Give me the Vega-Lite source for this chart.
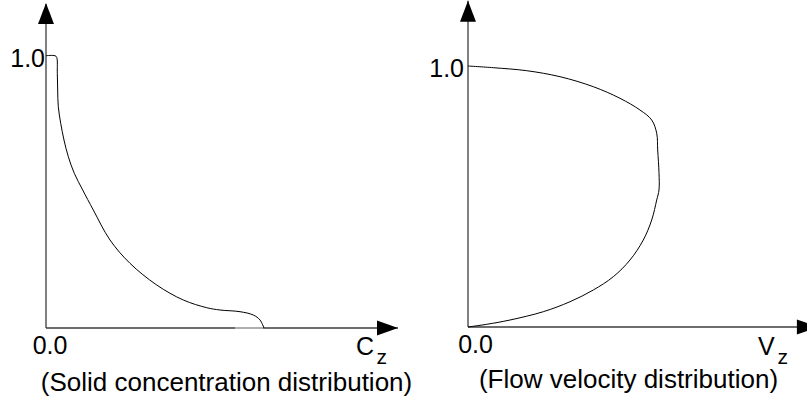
{
  "$schema": "https://vega.github.io/schema/vega-lite/v6.json",
  "background": "white",
  "padding": {"left": 10, "top": 0, "right": 0, "bottom": 0},
  "spacing": 70,
  "bounds": "flush",
  "config": {"view": {"stroke": null}, "font": "Liberation Sans"},
  "hconcat": [
    {
      "width": 352,
      "height": 328,
      "encoding": {
        "x": {"field": "x", "type": "quantitative", "scale": {"domain": [0, 1], "nice": false, "zero": false}, "axis": null},
        "y": {"field": "y", "type": "quantitative", "scale": {"domain": [0, 1.2046], "nice": false, "zero": false}, "axis": null}
      },
      "layer": [
        {
          "data": {"values": [{"x": 0, "y": 0, "x2": 1, "y2": 0}, {"x": 0, "y": 0, "x2": 0, "y2": 1.19}]},
          "mark": {"type": "rule", "color": "#3c3c3c", "strokeWidth": 1.3},
          "encoding": {"x2": {"field": "x2"}, "y2": {"field": "y2"}}
        },
        {
          "data": {"values": [{"x": 0.537, "y": 0, "x2": 0.617, "y2": 0}]},
          "mark": {"type": "rule", "color": "#c4c4c4", "strokeWidth": 1.5},
          "encoding": {"x2": {"field": "x2"}, "y2": {"field": "y2"}}
        },
        {
          "data": {"values": [{"x": 0, "y": 1.1935, "dir": "up"}, {"x": 1.0, "y": 0, "dir": "right"}]},
          "mark": {"type": "point", "filled": true, "color": "black", "opacity": 1, "size": 1764, "strokeWidth": 0},
          "encoding": {
            "shape": {"field": "dir", "type": "nominal", "scale": {"domain": ["up", "right"], "range": ["M0,0L0.38,1L-0.38,1Z", "M0,0L-1,-0.36L-1,0.36Z"]}, "legend": null}
          }
        },
        {
          "data": {"values": [
            {"i": 0, "x": 0, "y": 1.0},
            {"i": 1, "x": 0.0256, "y": 1.0},
            {"i": 2, "x": 0.0304, "y": 0.9942},
            {"i": 3, "x": 0.0321, "y": 0.9354},
            {"i": 4, "x": 0.0332, "y": 0.8741},
            {"i": 5, "x": 0.0349, "y": 0.8127},
            {"i": 6, "x": 0.0418, "y": 0.7518},
            {"i": 7, "x": 0.0511, "y": 0.6904},
            {"i": 8, "x": 0.0634, "y": 0.6291},
            {"i": 9, "x": 0.0804, "y": 0.5681},
            {"i": 10, "x": 0.1043, "y": 0.5068},
            {"i": 11, "x": 0.1344, "y": 0.4334},
            {"i": 12, "x": 0.1818, "y": 0.3232},
            {"i": 13, "x": 0.2386, "y": 0.2376},
            {"i": 14, "x": 0.3145, "y": 0.1579},
            {"i": 15, "x": 0.3901, "y": 0.1028},
            {"i": 16, "x": 0.4565, "y": 0.0746},
            {"i": 17, "x": 0.4943, "y": 0.0661},
            {"i": 18, "x": 0.5511, "y": 0.0599},
            {"i": 19, "x": 0.5889, "y": 0.0477},
            {"i": 20, "x": 0.608, "y": 0.0294},
            {"i": 21, "x": 0.6193, "y": 0.0}
          ]},
          "mark": {"type": "line", "color": "black", "strokeWidth": 1, "interpolate": "catmull-rom"},
          "encoding": {"order": {"field": "i", "type": "quantitative"}}
        },
        {
          "data": {"values": [{"x": 0, "y": 1.0, "t": "1.0"}]},
          "mark": {"type": "text", "align": "right", "baseline": "alphabetic", "dx": -1, "dy": 11, "fontSize": 25, "color": "black"},
          "encoding": {"text": {"field": "t"}}
        },
        {
          "data": {"values": [{"x": 0, "y": 0, "t": "0.0"}]},
          "mark": {"type": "text", "align": "center", "baseline": "alphabetic", "dx": 4, "dy": 26, "fontSize": 25, "color": "black"},
          "encoding": {"text": {"field": "t"}}
        },
        {
          "data": {"values": [{"x": 0.8807, "y": 0, "t": "C"}]},
          "mark": {"type": "text", "align": "left", "baseline": "alphabetic", "dy": 27, "fontSize": 25, "color": "black"},
          "encoding": {"text": {"field": "t"}}
        },
        {
          "data": {"values": [{"x": 0.939, "y": 0, "t": "z"}]},
          "mark": {"type": "text", "align": "left", "baseline": "alphabetic", "dy": 36, "fontSize": 21, "color": "black"},
          "encoding": {"text": {"field": "t"}}
        },
        {
          "data": {"values": [{"x": 0.5128, "y": 0, "t": "(Solid concentration distribution)"}]},
          "mark": {"type": "text", "align": "center", "baseline": "alphabetic", "dy": 63, "fontSize": 26, "color": "black"},
          "encoding": {"text": {"field": "t"}}
        }
      ]
    },
    {
      "width": 352,
      "height": 328,
      "encoding": {
        "x": {"field": "x", "type": "quantitative", "scale": {"domain": [0, 1], "nice": false, "zero": false}, "axis": null},
        "y": {"field": "y", "type": "quantitative", "scale": {"domain": [-0.00383, 1.25287], "nice": false, "zero": false}, "axis": null}
      },
      "layer": [
        {
          "data": {"values": [{"x": 0, "y": 0, "x2": 0.994, "y2": 0}, {"x": 0, "y": 0, "x2": 0, "y2": 1.25}]},
          "mark": {"type": "rule", "color": "#3c3c3c", "strokeWidth": 1.3},
          "encoding": {"x2": {"field": "x2"}, "y2": {"field": "y2"}}
        },
        {
          "data": {"values": [{"x": 0, "y": 1.25, "dir": "up"}, {"x": 0.994, "y": 0, "dir": "right"}]},
          "mark": {"type": "point", "filled": true, "color": "black", "opacity": 1, "size": 1764, "strokeWidth": 0},
          "encoding": {
            "shape": {"field": "dir", "type": "nominal", "scale": {"domain": ["up", "right"], "range": ["M0,0L0.38,1L-0.38,1Z", "M0,0L-1,-0.36L-1,0.36Z"]}, "legend": null}
          }
        },
        {
          "data": {"values": [
            {"i": 0, "x": 0, "y": 1.0},
            {"i": 1, "x": 0.0719, "y": 0.9935},
            {"i": 2, "x": 0.1668, "y": 0.982},
            {"i": 3, "x": 0.2614, "y": 0.959},
            {"i": 4, "x": 0.356, "y": 0.9207},
            {"i": 5, "x": 0.4318, "y": 0.8762},
            {"i": 6, "x": 0.4886, "y": 0.8314},
            {"i": 7, "x": 0.5219, "y": 0.7931},
            {"i": 8, "x": 0.5361, "y": 0.7421},
            {"i": 9, "x": 0.5389, "y": 0.6782},
            {"i": 10, "x": 0.5426, "y": 0.5912},
            {"i": 11, "x": 0.5426, "y": 0.5249},
            {"i": 12, "x": 0.5361, "y": 0.4866},
            {"i": 13, "x": 0.5219, "y": 0.41},
            {"i": 14, "x": 0.498, "y": 0.3333},
            {"i": 15, "x": 0.4602, "y": 0.2567},
            {"i": 16, "x": 0.4128, "y": 0.1927},
            {"i": 17, "x": 0.356, "y": 0.1418},
            {"i": 18, "x": 0.2898, "y": 0.0969},
            {"i": 19, "x": 0.2139, "y": 0.0586},
            {"i": 20, "x": 0.1193, "y": 0.0268},
            {"i": 21, "x": 0.0531, "y": 0.0103},
            {"i": 22, "x": 0, "y": 0}
          ]},
          "mark": {"type": "line", "color": "black", "strokeWidth": 1, "interpolate": "catmull-rom"},
          "encoding": {"order": {"field": "i", "type": "quantitative"}}
        },
        {
          "data": {"values": [{"x": 0, "y": 1.0, "t": "1.0"}]},
          "mark": {"type": "text", "align": "right", "baseline": "alphabetic", "dx": -4, "dy": 11, "fontSize": 25, "color": "black"},
          "encoding": {"text": {"field": "t"}}
        },
        {
          "data": {"values": [{"x": 0, "y": 0, "t": "0.0"}]},
          "mark": {"type": "text", "align": "center", "baseline": "alphabetic", "dx": 7.5, "dy": 26, "fontSize": 25, "color": "black"},
          "encoding": {"text": {"field": "t"}}
        },
        {
          "data": {"values": [{"x": 0.8239, "y": 0, "t": "V"}]},
          "mark": {"type": "text", "align": "left", "baseline": "alphabetic", "dy": 28, "fontSize": 25, "color": "black"},
          "encoding": {"text": {"field": "t"}}
        },
        {
          "data": {"values": [{"x": 0.879, "y": 0, "t": "z"}]},
          "mark": {"type": "text", "align": "left", "baseline": "alphabetic", "dy": 37, "fontSize": 21, "color": "black"},
          "encoding": {"text": {"field": "t"}}
        },
        {
          "data": {"values": [{"x": 0.456, "y": 0, "t": "(Flow velocity distribution)"}]},
          "mark": {"type": "text", "align": "center", "baseline": "alphabetic", "dy": 61, "fontSize": 26, "color": "black"},
          "encoding": {"text": {"field": "t"}}
        }
      ]
    }
  ]
}
